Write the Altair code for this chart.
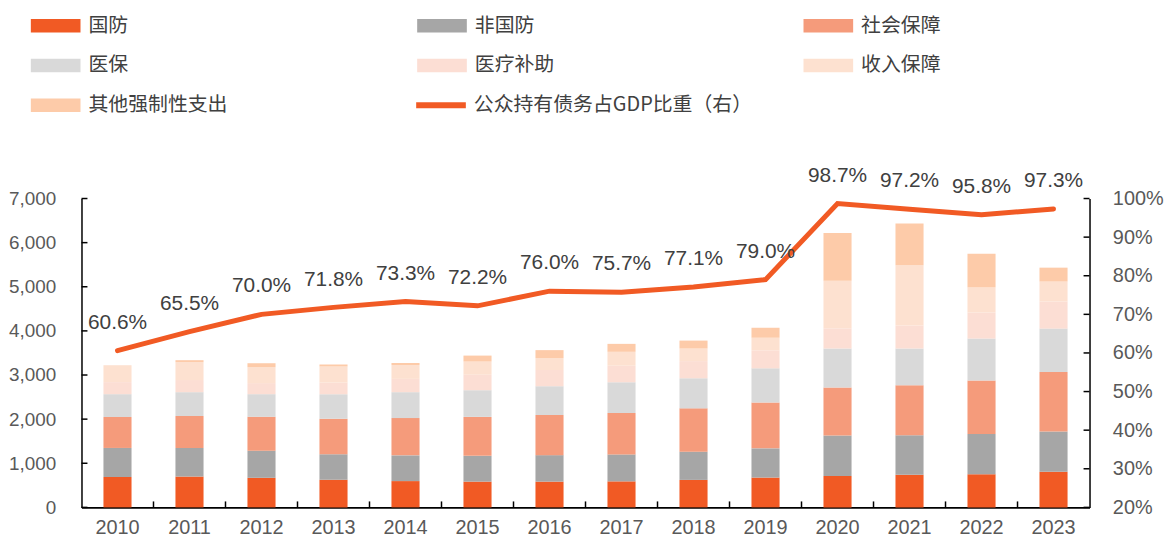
import altair as alt
import pandas as pd

years = [str(y) for y in range(2010, 2024)]
series = ["国防", "非国防", "社会保障", "医保", "医疗补助", "收入保障", "其他强制性支出"]
colors = ["#F15A24", "#A6A6A6", "#F59B7B", "#D9D9D9", "#FCDED4", "#FDE1D0", "#FDCBA9"]

defense = [689, 699, 670, 626, 596, 584, 584, 590, 623, 676, 714, 742, 751, 805]
nondefense = [658, 647, 615, 576, 583, 585, 600, 610, 639, 662, 914, 895, 911, 917]
social_security = [701, 725, 768, 808, 845, 882, 910, 939, 982, 1038, 1090, 1129, 1212, 1348]
medicare = [518, 540, 513, 556, 587, 605, 652, 697, 682, 775, 883, 835, 952, 982]
medicaid = [273, 275, 251, 265, 301, 350, 368, 375, 389, 409, 458, 521, 592, 616]
income_security = [383, 405, 360, 360, 315, 299, 270, 315, 285, 285, 1080, 1366, 563, 450]
other_mandatory = [0, 45, 90, 45, 45, 135, 180, 180, 180, 226, 1080, 945, 765, 315]

debt_ratio = [0.606, 0.655, 0.700, 0.718, 0.733, 0.722, 0.760, 0.757, 0.771, 0.790,
              0.987, 0.972, 0.958, 0.973]
line_name = "公众持有债务占GDP比重（右）"

left_ticks = [0, 1000, 2000, 3000, 4000, 5000, 6000, 7000]
right_ticks = [0.2, 0.3, 0.4, 0.5, 0.6, 0.7, 0.8, 0.9, 1.0]

all_series = [defense, nondefense, social_security, medicare, medicaid,
              income_security, other_mandatory]

rows = []
for si, (name, vals) in enumerate(zip(series, all_series)):
    for y, v in zip(years, vals):
        rows.append({"year": y, "series": name, "idx": si, "value": v})
df = pd.DataFrame(rows)
line_df = pd.DataFrame({"year": years, "ratio": debt_ratio, "name": [line_name] * len(years)})

W, H = 1015, 311
STEP = W / 14.0
ORANGE = "#F15A24"
NUM_FONT = "Liberation Sans"
CJK_FONT = "Noto Sans CJK SC"

xscale = alt.Scale(paddingInner=0.61, paddingOuter=0.305)
xaxis = alt.Axis(title=None, labelAngle=0, ticks=False, domainColor="black", domainWidth=2,
                 labelFont=NUM_FONT, labelFontSize=20, labelColor="#595959", labelPadding=10,
                 labelOverlap=False)

laxis = alt.Axis(title=None, values=left_ticks, format=",.0f", ticks=False, grid=False,
                 domainColor="black", domainWidth=1.5, labelFont=NUM_FONT,
                 labelFontSize=19, labelColor="#595959", labelPadding=26,
                 labelOverlap=False)
raxis = alt.Axis(title=None, orient="right", values=right_ticks, format=".0%",
                 ticks=False, grid=False, domainColor="black", domainWidth=1.5,
                 labelFont=NUM_FONT, labelFontSize=20, labelColor="#595959",
                 labelPadding=23, labelOverlap=False, labelFlush=False)
lscale = alt.Scale(domain=[0, 7000], nice=False)
rscale = alt.Scale(domain=[0.2, 1.0], nice=False)

bars = alt.Chart(df).mark_bar().encode(
    x=alt.X("year:N", sort=years, scale=xscale, axis=xaxis),
    y=alt.Y("value:Q", stack="zero", scale=lscale, axis=laxis),
    color=alt.Color("series:N", sort=series, scale=alt.Scale(domain=series, range=colors),
                    legend=alt.Legend(title=None, orient="none", legendX=-36, legendY=-184,
                                      direction="horizontal", values=series,
                                      columns=3, gridAlign="all", columnPadding=191,
                                      rowPadding=20, symbolType="M-2.5,-0.68H2.5V0.68H-2.5Z",
                                      symbolSize=400, symbolStrokeWidth=0, labelOffset=23,
                                      labelFont=CJK_FONT, labelFontSize=20, labelColor="#404040",
                                      labelLimit=300)),
    order=alt.Order("idx:Q", sort="ascending"),
)

lt = alt.Chart(pd.DataFrame({"value": left_ticks})).mark_rule(color="black", strokeWidth=1.5).encode(
    y=alt.Y("value:Q", scale=lscale, axis=laxis), x=alt.value(0), x2=alt.value(6))

xt = alt.Chart(pd.DataFrame({"year": years[1:]})).mark_rule(
    color="black", strokeWidth=1.5, xOffset=-STEP / 2).encode(
    x=alt.X("year:N", sort=years), y=alt.value(H - 6), y2=alt.value(H))

line = alt.Chart(line_df).mark_line(strokeWidth=5, strokeCap="round").encode(
    x=alt.X("year:N", sort=years),
    y=alt.Y("ratio:Q", scale=rscale, axis=raxis),
    stroke=alt.Stroke("name:N", scale=alt.Scale(domain=[line_name], range=[ORANGE]),
                      legend=alt.Legend(title=None, orient="none", legendX=349, legendY=-107,
                                        symbolType="M-2.5,0H2.5", symbolSize=400,
                                        symbolStrokeWidth=6, labelOffset=20,
                                        labelFont=CJK_FONT, labelFontSize=20,
                                        labelColor="#404040", labelLimit=400)),
)

labels = alt.Chart(line_df).mark_text(dy=-28, font=NUM_FONT, fontSize=21, color="#404040",
                                      baseline="middle", align="center").encode(
    x=alt.X("year:N", sort=years),
    y=alt.Y("ratio:Q", scale=rscale, axis=raxis),
    text=alt.Text("ratio:Q", format=".1%"),
)

rt = alt.Chart(pd.DataFrame({"ratio": right_ticks})).mark_rule(color="black", strokeWidth=1.5).encode(
    y=alt.Y("ratio:Q", scale=rscale, axis=raxis), x=alt.value(W - 6), x2=alt.value(W))

left_group = alt.layer(bars, lt, xt)
right_group = alt.layer(line, labels, rt)

chart = alt.layer(left_group, right_group).resolve_scale(
    y="independent", color="independent"
).properties(
    width=W, height=H,
    autosize=alt.AutoSizeParams(type="none"),
    padding={"left": 74, "top": 190, "right": 76, "bottom": 30},
).configure_view(stroke=None).configure_axis(labelOverlap=False)

chart.save("out.html", embed_options={"renderer": "svg", "actions": False})
